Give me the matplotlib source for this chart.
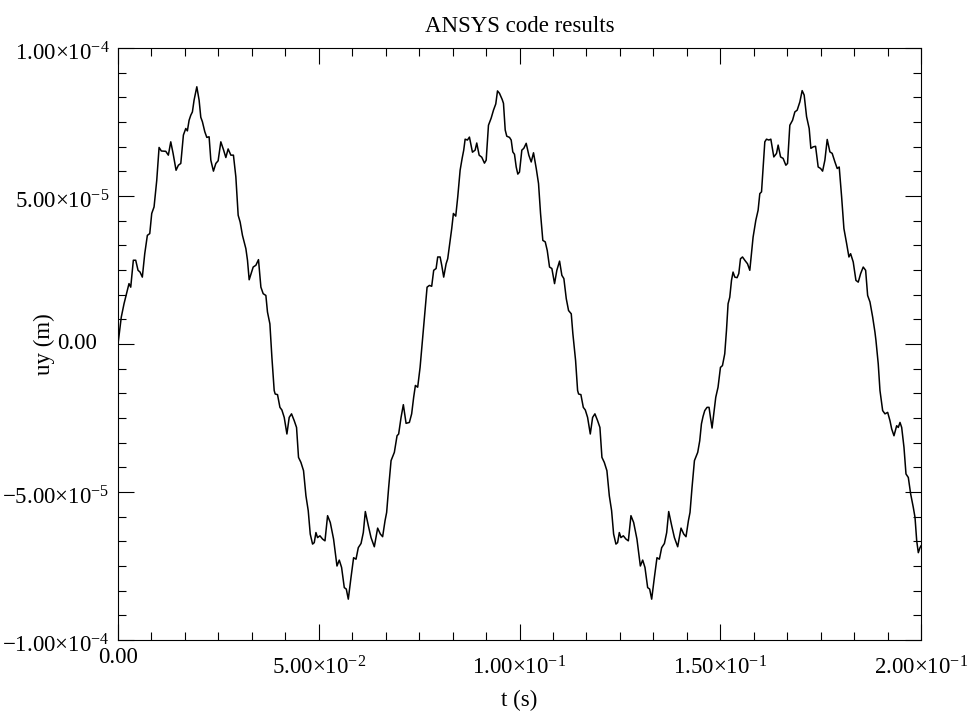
import numpy as np
import matplotlib
matplotlib.use('Agg')
import matplotlib.pyplot as plt
from matplotlib.ticker import FixedLocator, AutoMinorLocator, FuncFormatter
from matplotlib.transforms import ScaledTranslation

# uy(t): time in ms, displacement in 1e-5 m
t_ms = [
    0.00, 0.82, 1.50, 2.32, 2.74, 3.17, 3.82, 4.41, 4.99, 5.49,
    6.06, 6.66, 7.31, 7.91, 8.40, 8.98, 9.65, 10.23, 10.80, 11.90,
    12.54, 13.14, 13.72, 14.46, 15.04, 15.64, 16.29, 16.88, 17.28, 17.71,
    18.13, 18.53, 18.95, 19.63, 20.20, 20.62, 21.02, 21.62, 22.12, 22.69,
    23.12, 23.77, 24.37, 24.94, 25.61, 26.26, 26.86, 27.43, 28.11, 28.75,
    29.35, 29.93, 30.42, 31.00, 31.85, 32.25, 32.67, 33.67, 34.34, 34.99,
    35.59, 36.16, 36.83, 37.23, 37.83, 38.33, 38.90, 39.15, 39.73, 40.33,
    40.82, 41.40, 42.07, 42.64, 43.22, 43.89, 44.47, 44.96, 45.56, 46.21,
    46.81, 47.38, 47.88, 48.46, 48.88, 49.30, 49.70, 50.30, 50.95, 51.55,
    52.20, 52.87, 53.69, 54.54, 55.11, 55.69, 56.36, 56.86, 57.36, 58.03,
    58.68, 59.28, 59.85, 60.53, 61.10, 61.60, 62.35, 63.02, 63.84, 64.67,
    65.34, 65.91, 66.51, 66.91, 67.41, 68.01, 68.83, 69.50, 69.90, 70.50,
    71.07, 71.75, 72.57, 73.14, 73.64, 74.07, 74.64, 75.24, 75.89, 76.49,
    76.98, 77.56, 78.13, 78.63, 79.23, 79.63, 80.23, 80.63, 81.12, 81.72,
    82.12, 82.72, 83.12, 83.54, 84.12, 84.62, 85.21, 85.71, 86.11, 86.46,
    87.03, 87.53, 88.28, 88.95, 89.35, 89.95, 90.60, 91.27, 91.70, 92.27,
    92.94, 93.52, 94.09, 94.52, 95.01, 95.69, 96.01, 96.44, 96.83, 97.51,
    97.93, 98.33, 98.75, 99.18, 99.58, 100.00, 100.58, 101.07, 101.67, 102.32,
    102.92, 103.49, 104.17, 104.74, 105.24, 105.81, 106.41, 106.91, 107.48, 108.06,
    108.73, 109.30, 109.98, 110.55, 111.05, 111.65, 112.22, 112.89, 113.29, 113.97,
    114.47, 114.72, 115.29, 115.89, 116.39, 116.96, 117.63, 118.21, 118.78, 119.45,
    120.03, 120.53, 121.12, 121.77, 122.37, 122.94, 123.44, 124.02, 124.44, 124.86,
    125.26, 125.86, 126.51, 127.11, 127.76, 128.43, 129.25, 130.10, 130.68, 131.25,
    131.92, 132.42, 132.92, 133.59, 134.24, 134.84, 135.41, 136.09, 136.66, 137.16,
    137.91, 138.58, 139.40, 140.23, 140.90, 141.47, 142.07, 142.47, 142.97, 143.57,
    144.39, 144.89, 145.31, 145.71, 146.14, 146.71, 147.21, 147.56, 147.96, 148.38,
    148.88, 149.45, 150.05, 150.55, 151.12, 151.55, 151.95, 152.37, 152.80, 153.19,
    153.62, 154.19, 154.62, 155.04, 155.54, 156.11, 156.79, 157.36, 157.78, 158.18,
    158.86, 159.43, 159.85, 160.28, 160.68, 161.10, 161.52, 162.10, 162.60, 163.34,
    164.02, 164.42, 165.02, 165.66, 166.34, 166.76, 167.33, 168.01, 168.58, 169.16,
    169.83, 170.40, 170.90, 171.50, 172.15, 172.57, 173.15, 173.74, 174.39, 174.99,
    175.49, 176.06, 176.64, 177.31, 177.88, 178.56, 179.13, 179.63, 180.23, 180.80,
    181.48, 182.05, 182.47, 183.12, 183.79, 184.37, 184.97, 185.61, 186.21, 186.71,
    187.29, 187.96, 188.53, 188.78, 189.35, 189.78, 190.45, 191.03, 191.70, 192.27,
    192.70, 193.27, 193.94, 194.34, 194.77, 195.19, 195.76, 196.26, 196.84, 197.43,
    198.08, 198.51, 198.93, 199.33, 199.75, 200.00,
]
uy_e5 = [
    0.00, 0.91, 1.36, 1.81, 2.04, 1.92, 2.83, 2.83, 2.49, 2.43,
    2.26, 3.05, 3.67, 3.73, 4.41, 4.63, 5.53, 6.64, 6.52, 6.51,
    6.38, 6.83, 6.44, 5.87, 6.04, 6.10, 7.06, 7.28, 7.20, 7.56,
    7.73, 7.84, 8.24, 8.69, 8.24, 7.66, 7.51, 7.17, 6.98, 7.00,
    6.21, 5.84, 6.10, 6.19, 6.83, 6.57, 6.30, 6.59, 6.38, 6.38,
    5.65, 4.35, 4.12, 3.67, 3.22, 2.83, 2.17, 2.60, 2.66, 2.85,
    1.92, 1.70, 1.64, 1.08, 0.68, -0.45, -1.57, -1.69, -1.71, -2.14,
    -2.23, -2.48, -3.04, -2.48, -2.36, -2.59, -2.82, -3.83, -4.00, -4.28,
    -5.13, -5.63, -6.42, -6.76, -6.71, -6.37, -6.54, -6.48, -6.59, -6.65,
    -5.80, -6.03, -6.59, -7.50, -7.30, -7.55, -8.23, -8.28, -8.62, -7.89,
    -7.22, -7.27, -6.88, -6.74, -6.37, -5.66, -6.14, -6.54, -6.85, -6.22,
    -6.42, -6.51, -5.97, -5.69, -4.85, -3.94, -3.66, -3.10, -3.04, -2.48,
    -2.05, -2.68, -2.65, -2.36, -1.80, -1.40, -1.46, -0.79, 0.23, 1.13,
    1.92, 1.98, 1.95, 2.49, 2.55, 2.94, 2.94, 2.66, 2.26, 2.71,
    2.88, 3.50, 3.90, 4.41, 4.32, 4.97, 5.87, 6.27, 6.55, 6.92,
    6.89, 6.99, 6.48, 6.55, 6.79, 6.38, 6.31, 6.11, 6.21, 7.39,
    7.63, 7.90, 8.11, 8.55, 8.47, 8.26, 8.13, 7.23, 7.02, 6.98,
    6.89, 6.49, 6.41, 5.98, 5.74, 5.81, 6.55, 6.61, 6.78, 6.38,
    6.15, 6.46, 5.93, 5.42, 4.41, 3.50, 3.45, 3.16, 2.60, 2.55,
    2.04, 2.49, 2.80, 2.32, 2.21, 1.53, 1.13, 1.02, 0.35, -0.56,
    -1.57, -1.69, -1.71, -2.14, -2.23, -2.48, -3.04, -2.48, -2.36, -2.59,
    -2.82, -3.83, -4.00, -4.28, -5.13, -5.63, -6.42, -6.76, -6.71, -6.37,
    -6.54, -6.48, -6.59, -6.65, -5.80, -6.03, -6.59, -7.50, -7.30, -7.55,
    -8.23, -8.28, -8.62, -7.89, -7.22, -7.27, -6.88, -6.74, -6.37, -5.66,
    -6.14, -6.54, -6.85, -6.22, -6.42, -6.51, -5.97, -5.69, -4.85, -3.94,
    -3.66, -3.27, -2.70, -2.45, -2.25, -2.14, -2.14, -2.48, -2.84, -2.36,
    -1.80, -1.46, -0.79, -0.73, -0.33, 0.46, 1.36, 1.58, 2.15, 2.43,
    2.26, 2.24, 2.38, 2.88, 2.94, 2.83, 2.71, 2.49, 3.05, 3.61,
    4.18, 4.52, 5.08, 5.14, 5.98, 6.83, 6.92, 6.89, 6.92, 6.32,
    6.44, 6.72, 6.32, 6.27, 6.04, 6.10, 7.39, 7.56, 7.84, 7.90,
    8.18, 8.56, 8.41, 7.68, 7.28, 6.61, 6.66, 6.68, 5.98, 5.93,
    5.84, 6.21, 6.91, 6.49, 6.44, 6.15, 5.93, 5.98, 4.97, 3.90,
    3.39, 2.94, 3.05, 2.77, 2.15, 2.09, 2.38, 2.60, 2.49, 1.64,
    1.42, 0.91, 0.40, 0.12, -0.67, -1.57, -2.25, -2.36, -2.31, -2.59,
    -2.87, -3.10, -2.76, -2.82, -2.65, -2.82, -3.49, -4.39, -4.51, -5.07,
    -5.52, -5.86, -6.65, -7.05, -6.88, -6.82,
]

x_ticks = [0.0, 0.05, 0.10, 0.15, 0.20]
y_ticks = [-1e-4, -5e-5, 0.0, 5e-5, 1e-4]

t = np.array(t_ms) * 1e-3
uy = np.array(uy_e5) * 1e-5

plt.rcParams['font.family'] = 'Liberation Serif'
plt.rcParams['mathtext.fontset'] = 'custom'
plt.rcParams['mathtext.rm'] = 'Liberation Serif'
plt.rcParams['mathtext.it'] = 'Liberation Serif:italic'
plt.rcParams['mathtext.bf'] = 'Liberation Serif:bold'

FS = 16.5


def sci(v, pos):
    if v == 0:
        return "0.00"
    exp = int(np.floor(np.log10(abs(v)) + 1e-9))
    man = abs(v) / 10.0 ** exp
    sign = "\u2212" if v < 0 else ""
    return f"{sign}{man:.2f}\u00d7$\\mathrm{{10}}^{{{exp}}}$"


fig = plt.figure(figsize=(9.72, 7.22), dpi=100)
ax = fig.add_axes([118 / 972, 1 - 640 / 722, 803 / 972, 592 / 722])

ax.plot(t, uy, color='black', lw=1.1)

ax.set_xlim(0, 0.2)
ax.set_ylim(-1e-4, 1e-4)
ax.xaxis.set_major_locator(FixedLocator(x_ticks))
ax.yaxis.set_major_locator(FixedLocator(y_ticks))
ax.xaxis.set_minor_locator(AutoMinorLocator(6))
ax.yaxis.set_minor_locator(AutoMinorLocator(6))
ax.xaxis.set_major_formatter(FuncFormatter(sci))
ax.yaxis.set_major_formatter(FuncFormatter(sci))

ax.tick_params(which='both', direction='in', top=True, right=True,
               width=0.8, labelsize=FS)
ax.tick_params(which='major', length=11.5)
ax.tick_params(which='minor', length=5.8)
ax.tick_params(axis='x', pad=5)
ax.tick_params(axis='y', pad=6)
for s in ax.spines.values():
    s.set_linewidth(0.8)

ax.set_title('ANSYS code results', fontsize=FS, pad=11.5)
ax.set_xlabel('t (s)', fontsize=FS)
ax.set_ylabel('uy (m)', fontsize=FS)
ax.xaxis.set_label_coords(0.5, -0.085)
ax.yaxis.set_label_coords(-0.078, 0.5)

# Grace-style label placement: labels with an exponent sit lower,
# the plain "0.00" on the y axis lines up with the mantissas
fig.canvas.draw()
for tk in ax.xaxis.get_major_ticks():
    if '$' in tk.label1.get_text():
        tk.label1.set_transform(tk.label1.get_transform() +
                                ScaledTranslation(0, -9 / 100, fig.dpi_scale_trans))
for tk in ax.yaxis.get_major_ticks():
    tk.label1.set_va('center')
    if '$' in tk.label1.get_text():
        tk.label1.set_transform(tk.label1.get_transform() +
                                ScaledTranslation(0, -6 / 100, fig.dpi_scale_trans))
    else:
        tk.label1.set_transform(tk.label1.get_transform() +
                                ScaledTranslation(-13 / 100, 0, fig.dpi_scale_trans))

fig.savefig('out.png', dpi=100)
